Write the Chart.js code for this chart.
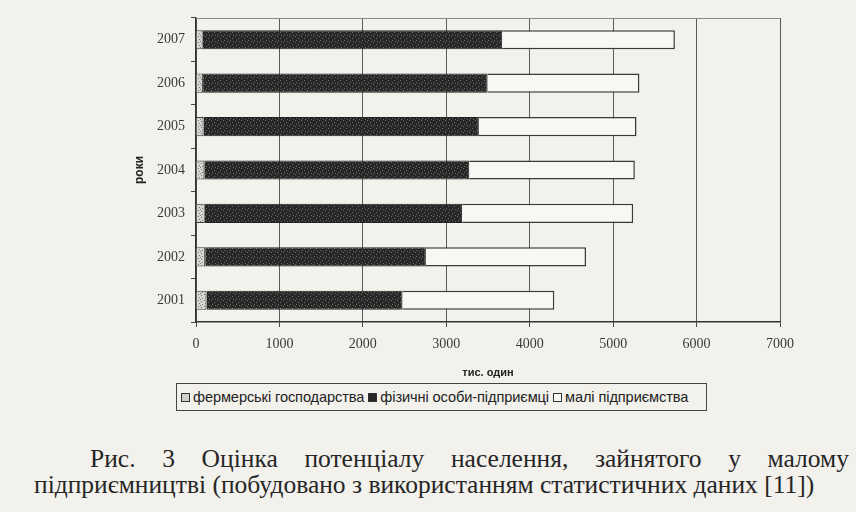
<!DOCTYPE html>
<html>
<head>
<meta charset="utf-8">
<script src="https://cdn.jsdelivr.net/npm/chart.js@4.4.1/dist/chart.umd.min.js"></script>
<style>
  html, body { margin: 0; padding: 0; }
  body { width: 856px; height: 512px; background: #f2f1ec; position: relative; overflow: hidden; }
  #wrap { position: absolute; left: 0; top: 0; width: 856px; height: 380px; }
  .legend {
    position: absolute; left: 176px; top: 383px; width: 531px; height: 28px;
    border: 1px solid #444; box-sizing: border-box;
    font-family: 'Liberation Sans', sans-serif; font-size: 14.6px; color: #222;
    display: flex; align-items: center; padding-left: 3px; white-space: nowrap;
    letter-spacing: -0.1px;
  }
  .legend span.sw { display: inline-block; width: 7px; height: 7px; border: 1px solid #333; margin: 0 3px 0 1px; flex: none; }
  .cap { position: absolute; font-family: 'Liberation Serif', 'Times New Roman', serif; font-size: 25.5px; line-height: 1; color: #262626; white-space: nowrap; }
  #cap1 { left: 90px; top: 446px; width: 759px; text-align: justify; text-align-last: justify; }
  #cap2 { left: 34px; top: 472px; }
</style>
</head>
<body>
<div id="wrap"><canvas id="chart" width="856" height="380"></canvas></div>

<div class="legend">
  <span class="sw" id="sw0"></span>фермерські господарства
  <span class="sw" id="sw1" style="margin-left:4px"></span>фізичні особи-підприємці
  <span class="sw" id="sw2" style="margin-left:4px"></span>малі підприємства
</div>

<div class="cap" id="cap1">Рис. 3 Оцінка потенціалу населення, зайнятого у малому</div>
<div class="cap" id="cap2">підприємництві (побудовано з використанням статистичних даних [11])</div>

<script>
// роки
const years = ['2001', '2002', '2003', '2004', '2005', '2006', '2007'];
// тис. один
const farms = [125, 110, 105, 100, 90, 85, 80];
const individuals = [2350, 2645, 3085, 3175, 3300, 3410, 3590];
const smallFirms = [1820, 1920, 2050, 1985, 1890, 1820, 2070];
const seriesNames = ['фермерські господарства', 'фізичні особи-підприємці', 'малі підприємства'];

// маленькі текстури, щоб було схоже на скан
function makePattern(base, dot, spots) {
    const c = document.createElement('canvas');
    c.width = 6; c.height = 6;
    const g = c.getContext('2d');
    g.fillStyle = base;
    g.fillRect(0, 0, 6, 6);
    g.fillStyle = dot;
    spots.forEach(p => g.fillRect(p[0], p[1], 1, 1));
    return g.createPattern(c, 'repeat');
}

const farmFill = makePattern('#d6d6d3', '#7a7a78', [[0, 0], [3, 1], [1, 3], [4, 4], [2, 5]]);
const indivFill = makePattern('#272727', '#6d6d6b', [[1, 0], [4, 2], [2, 4], [5, 5]]);
const smallFill = '#f7f7f4';

document.getElementById('sw0').style.background = '#cfcfcc';
document.getElementById('sw1').style.background = '#272727';
document.getElementById('sw2').style.background = smallFill;

// верхня рамка області графіка
const frame = {
    id: 'frame',
    afterDraw(chart) {
        const a = chart.chartArea;
        const ctx = chart.ctx;
        ctx.save();
        ctx.strokeStyle = '#8a8a88';
        ctx.lineWidth = 1;
        ctx.beginPath();
        ctx.moveTo(a.left, a.top + 0.5);
        ctx.lineTo(a.right, a.top + 0.5);
        ctx.stroke();
        ctx.restore();
    }
};

new Chart(document.getElementById('chart').getContext('2d'), {
    type: 'bar',
    data: {
        labels: years,
        datasets: [
            { label: seriesNames[0], data: farms, backgroundColor: farmFill, borderColor: '#3a3a3a', borderWidth: 1 },
            { label: seriesNames[1], data: individuals, backgroundColor: indivFill, borderColor: '#222', borderWidth: 1 },
            { label: seriesNames[2], data: smallFirms, backgroundColor: smallFill, borderColor: '#3a3a3a', borderWidth: 1.5 }
        ]
    },
    options: {
        indexAxis: 'y',
        responsive: false,
        animation: false,
        layout: { padding: { left: 0, right: 76, top: 18, bottom: 0 } },
        datasets: { bar: { barPercentage: 0.44, categoryPercentage: 1 } },
        scales: {
            x: {
                stacked: true,
                min: 0,
                max: 7000,
                ticks: {
                    stepSize: 1000,
                    padding: 9,
                    color: '#3a3a3a',
                    font: { family: 'Liberation Serif', size: 14 },
                    callback: v => String(v) // без розділювача тисяч
                },
                grid: { color: '#5a5a58', lineWidth: 1, tickLength: 5, tickColor: '#444' },
                border: { color: '#333', width: 1.5 },
                title: {
                    display: true,
                    text: 'тис. один',
                    color: '#222',
                    font: { family: 'Liberation Sans', size: 11, weight: 'bold' },
                    padding: { top: 12, bottom: 0 }
                },
                afterFit(scale) { scale.height = 58; }
            },
            y: {
                stacked: true,
                reverse: true,
                ticks: {
                    padding: 6,
                    color: '#3a3a3a',
                    font: { family: 'Liberation Serif', size: 14 }
                },
                grid: { offset: true, drawOnChartArea: false, tickLength: 5, tickColor: '#444' },
                border: { color: '#333', width: 1.5 },
                title: {
                    display: true,
                    text: 'роки',
                    color: '#222',
                    font: { family: 'Liberation Sans', size: 12, weight: 'bold' },
                    padding: { top: 132, bottom: 0 }
                },
                afterFit(scale) { scale.width = 196; }
            }
        },
        plugins: {
            legend: { display: false },
            tooltip: { enabled: false }
        }
    },
    plugins: [frame]
});
</script>
</body>
</html>
